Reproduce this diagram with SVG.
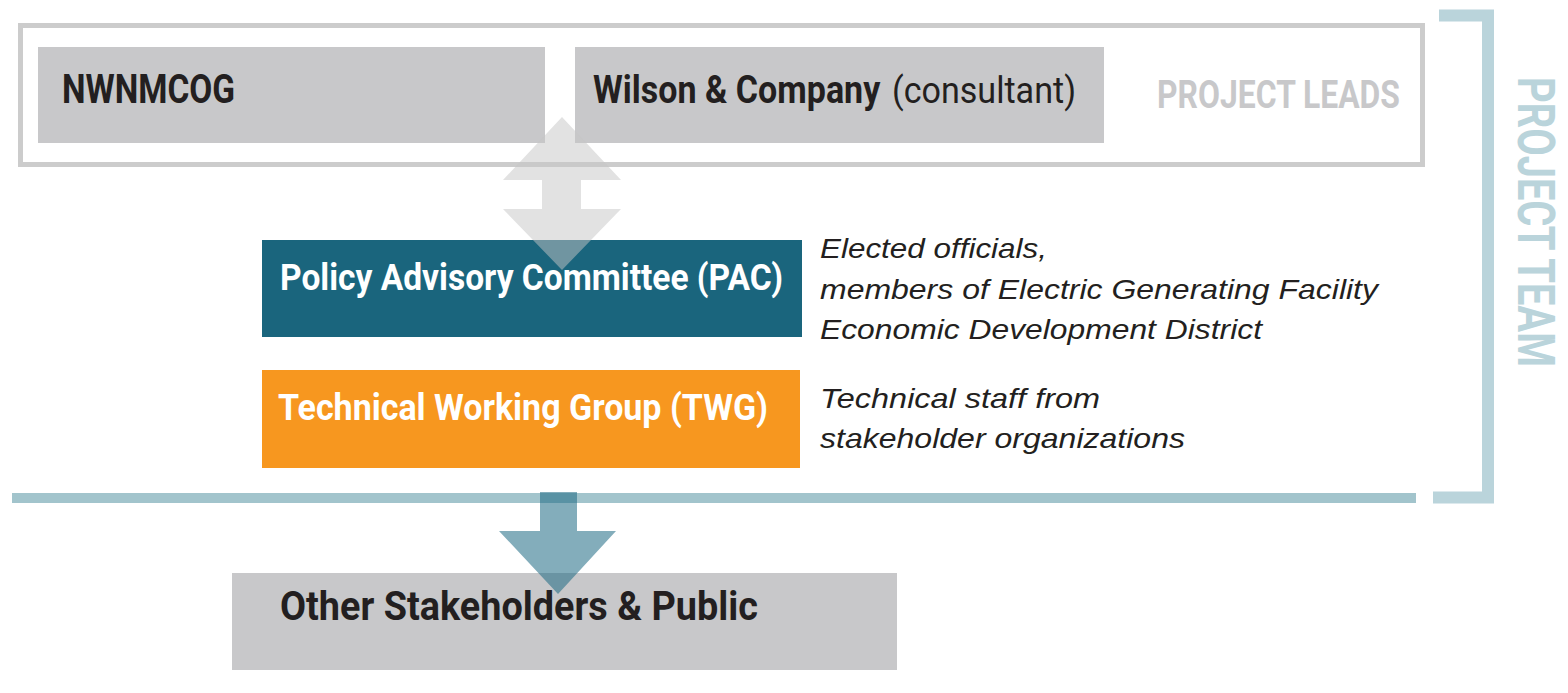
<svg xmlns="http://www.w3.org/2000/svg" width="1568" height="693" viewBox="0 0 1568 693">
  <style>
    .lbl { font-family: Roboto, "Liberation Sans", sans-serif; font-weight: bold; }
    .dark { fill: #231f20; }
    .white { fill: #ffffff; }
    .note { font-family: "Liberation Sans", Arial, sans-serif; font-style: italic; font-size: 28px; fill: #231f20; }
    .gbox { fill: #c8c8ca; }
  </style>
  <rect width="1568" height="693" fill="#ffffff"/>

  <!-- Project team bracket -->
  <g id="project-team">
    <path d="M1439,15.5 H1488 V497.5 H1433" fill="none" stroke="#bad4db" stroke-width="12"/>
    <text class="lbl" font-size="52" fill="#bad4db" transform="translate(1518,77) rotate(90)" x="0" y="0" textLength="290" lengthAdjust="spacingAndGlyphs">PROJECT TEAM</text>
  </g>

  <!-- Project leads container -->
  <g id="project-leads">
    <rect x="20.5" y="25.5" width="1402" height="139" fill="none" stroke="#cccccc" stroke-width="5"/>
    <text class="lbl" font-size="38" fill="#c8c8ca" x="1157" y="108" textLength="243" lengthAdjust="spacingAndGlyphs">PROJECT LEADS</text>
  </g>

  <g id="nwnmcog">
    <rect class="gbox" x="38" y="47" width="507" height="96"/>
    <text class="lbl dark" font-size="40" x="62" y="103" textLength="173" lengthAdjust="spacingAndGlyphs">NWNMCOG</text>
  </g>

  <g id="wilson">
    <rect class="gbox" x="575" y="47" width="529" height="96"/>
    <text class="lbl dark" font-size="38" transform="translate(593,103) scale(0.85,1)" x="0" y="0" textLength="338" lengthAdjust="spacingAndGlyphs">Wilson &amp; Company</text>
    <text font-family="Roboto, 'Liberation Sans', sans-serif" font-size="36" fill="#231f20" x="892" y="103" textLength="184" lengthAdjust="spacingAndGlyphs">(consultant)</text>
  </g>

  <g id="pac">
    <rect x="262" y="240" width="540" height="97" fill="#1a657d"/>
    <text class="lbl white" font-size="37" x="280" y="290" textLength="503" lengthAdjust="spacingAndGlyphs">Policy Advisory Committee (PAC)</text>
  </g>
  <g id="pac-note">
    <text class="note" x="820" y="258" textLength="227" lengthAdjust="spacingAndGlyphs">Elected officials,</text>
    <text class="note" x="820" y="299" textLength="558" lengthAdjust="spacingAndGlyphs">members of Electric Generating Facility</text>
    <text class="note" x="820" y="339" textLength="442" lengthAdjust="spacingAndGlyphs">Economic Development District</text>
  </g>

  <g id="twg">
    <rect x="262" y="370" width="538" height="98" fill="#f7971f"/>
    <text class="lbl white" font-size="36" x="278" y="420" textLength="490" lengthAdjust="spacingAndGlyphs">Technical Working Group (TWG)</text>
  </g>
  <g id="twg-note">
    <text class="note" x="820" y="408" textLength="280" lengthAdjust="spacingAndGlyphs">Technical staff from</text>
    <text class="note" x="820" y="448" textLength="365" lengthAdjust="spacingAndGlyphs">stakeholder organizations</text>
  </g>

  <g id="others">
    <rect class="gbox" x="232" y="573" width="665" height="97"/>
    <text class="lbl dark" font-size="41" x="280" y="620" textLength="478" lengthAdjust="spacingAndGlyphs">Other Stakeholders &amp; Public</text>
  </g>

  <!-- Connectors -->
  <g id="connectors">
    <rect x="12" y="493" width="1404" height="10" fill="#a2c4cc"/>
    <polygon points="562,117 621,180 581,180 581,209 621,209 562,270 503,209 542,209 542,180 503,180" fill="#c6c6c6" fill-opacity="0.5"/>
    <polygon points="540,492 577,492 577,531 616,531 558,594 499,531 540,531" fill="#1e6a84" fill-opacity="0.55"/>
  </g>
</svg>
